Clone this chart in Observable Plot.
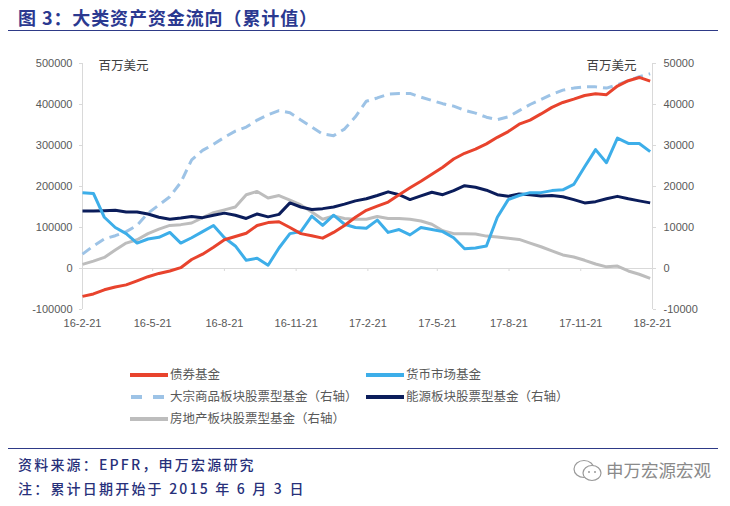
<!DOCTYPE html>
<html>
<head>
<meta charset="utf-8">
<script src="https://cdn.jsdelivr.net/npm/d3@7"></script>
<script src="https://cdn.jsdelivr.net/npm/@observablehq/plot@0.6"></script>
<style>
  html, body { margin: 0; padding: 0; background: #ffffff; }
  body { width: 730px; height: 506px; position: relative; overflow: hidden; font-family: "Noto Sans CJK SC", sans-serif; }
  .abs { position: absolute; white-space: nowrap; }
  #title { left: 18px; top: 4px; font-size: 18px; font-weight: 700; color: #2B3990; letter-spacing: 0.9px; line-height: 26px; }
  .hr { position: absolute; left: 8px; width: 710px; height: 0; border-top: 1.5px solid #2E3A87; }
  #chart { position: absolute; left: 0; top: 40px; }
  .lg { position: absolute; font-size: 12.5px; color: #595959; line-height: 16px; white-space: nowrap; }
  .lg svg { position: absolute; left: 0; top: 6px; }
  .lg span { position: absolute; left: 40px; top: 0; }
  .foot { position: absolute; left: 18px; font-size: 14px; font-weight: 500; color: #27307A; letter-spacing: 2.2px; line-height: 20px; white-space: nowrap; }
  #wm { position: absolute; left: 606px; top: 459px; font-size: 17.5px; color: #8a8a8a; line-height: 22px; white-space: nowrap; }
  #wmicon { position: absolute; left: 572px; top: 458px; }
</style>
</head>
<body>
<div id="title" class="abs">图 3：大类资产资金流向（累计值）</div>
<div class="hr" style="top:30px"></div>
<div id="chart"></div>
<div id="legend"></div>
<div class="hr" style="top:448px"></div>
<div class="foot" style="top:454px">资料来源：EPFR，申万宏源研究</div>
<div class="foot" style="top:478px">注：累计日期开始于 2015 年 6 月 3 日</div>
<svg id="wmicon" width="32" height="26" viewBox="0 0 32 26">
  <ellipse cx="12" cy="11" rx="10" ry="8.5" fill="none" stroke="#9a9a9a" stroke-width="1.2"/>
  <ellipse cx="20" cy="15" rx="9" ry="7.5" fill="#ffffff" stroke="#9a9a9a" stroke-width="1.2"/>
  <circle cx="17" cy="14" r="1" fill="#9a9a9a"/>
  <circle cx="23" cy="14" r="1" fill="#9a9a9a"/>
</svg>
<div id="wm">申万宏源宏观</div>
<script>
// ---------- data ----------
const dates = [
  "2016-02-21","2016-03-06","2016-03-20","2016-04-03","2016-04-17","2016-05-01","2016-05-15","2016-05-29",
  "2016-06-12","2016-06-26","2016-07-10","2016-07-24","2016-08-07","2016-08-21","2016-09-04","2016-09-18",
  "2016-10-02","2016-10-16","2016-10-30","2016-11-13","2016-11-27","2016-12-11","2016-12-25","2017-01-08",
  "2017-01-22","2017-02-05","2017-02-19","2017-03-05","2017-03-19","2017-04-02","2017-04-16","2017-04-30",
  "2017-05-14","2017-05-28","2017-06-11","2017-06-25","2017-07-09","2017-07-23","2017-08-06","2017-08-20",
  "2017-09-03","2017-09-17","2017-10-01","2017-10-15","2017-10-29","2017-11-12","2017-11-26","2017-12-10",
  "2017-12-24","2018-01-07","2018-01-21","2018-02-04","2018-02-18"
];

// left axis (百万美元)
const bondFund = [
  -68000,-62000,-52000,-45000,-40000,-30000,-20000,-12000,-6000,2000,22000,35000,52000,70000,78000,86000,
  105000,112000,114000,100000,85000,80000,74000,88000,105000,125000,142000,152000,162000,180000,197000,213000,
  230000,247000,267000,281000,291000,304000,320000,334000,352000,362000,377000,393000,405000,413000,422000,426000,
  424000,445000,458000,466000,457000
];
const moneyMarketFund = [
  185000,183000,125000,100000,85000,62000,72000,76000,88000,62000,75000,90000,105000,75000,55000,20000,
  25000,8000,50000,85000,90000,128000,105000,130000,108000,100000,98000,118000,88000,95000,82000,100000,
  95000,90000,75000,48000,50000,55000,125000,168000,178000,185000,185000,190000,192000,205000,248000,290000,
  258000,318000,305000,305000,285000
];

// right axis (百万美元)
const commodityEquity = [
  3500,5500,7200,8000,9000,10500,13500,15500,17500,21000,26500,28800,30300,32000,33500,34500,
  36200,37500,38500,38000,36200,34500,32800,32400,34000,37000,40800,41600,42500,42700,42700,41800,
  41000,40200,39600,38600,37900,36900,36300,37000,38500,40000,41200,42500,43500,44000,44300,44300,
  44000,44800,45800,46800,47500
];
const energyEquity = [
  14000,14000,14100,14200,13800,13800,13300,12500,12000,12300,12700,12400,13000,13500,13000,12200,
  13300,12600,13200,16000,15000,14400,14600,15000,15700,16500,17000,17800,18700,18000,16800,17700,
  18600,18000,19000,20200,19800,19100,18000,17600,18200,18000,17700,17800,17500,16800,16000,16300,
  17000,17600,17000,16500,16000
];
const realEstateEquity = [
  1000,1800,2700,4500,6200,7000,8500,9600,10500,10700,11100,12400,13600,14300,15000,18000,
  18800,17200,17800,16700,15500,13800,12000,12800,12200,12000,12000,12700,12200,12200,12000,11600,
  10800,9200,8500,8500,8400,7900,7700,7400,7100,6200,5300,4300,3300,2800,2000,1100,
  400,600,-600,-1400,-2400
];

const seriesNames = ["债券基金","货币市场基金","大宗商品板块股票型基金（右轴）","能源板块股票型基金（右轴）","房地产板块股票型基金（右轴）"];
const seriesColors = ["#E8432D","#3DAEE9","#9DC3E6","#0B1D5B","#BDBDBD"];

const leftTicks = [-100000, 0, 100000, 200000, 300000, 400000, 500000];
const rightTicks = [-10000, 0, 10000, 20000, 30000, 40000, 50000];
const xTickDates = ["2016-02-21","2016-05-21","2016-08-21","2016-11-21","2017-02-21","2017-05-21","2017-08-21","2017-11-21","2018-02-21"];
const xTickLabels = ["16-2-21","16-5-21","16-8-21","16-11-21","17-2-21","17-5-21","17-8-21","17-11-21","18-2-21"];
const unitLabel = "百万美元";

// ---------- build ----------
const rightFactor = leftTicks[leftTicks.length - 1] / rightTicks[rightTicks.length - 1]; // 10
const parse = d3.utcParse("%Y-%m-%d");
const xDates = dates.map(parse);
const tickDates = xTickDates.map(parse);
const labelByTime = new Map(tickDates.map((d, i) => [+d, xTickLabels[i]]));
const xDomain = [tickDates[0], tickDates[tickDates.length - 1]];
const yDomain = [leftTicks[0], leftTicks[leftTicks.length - 1]];

function rows(vals, factor) {
  return xDates.map((d, i) => ({date: d, value: vals[i] * factor}));
}

const lineStyle = {x: "date", y: "value", strokeWidth: 3, strokeLinejoin: "round", strokeLinecap: "butt", curve: "linear"};

const chart = Plot.plot({
  width: 730,
  height: 300,
  marginLeft: 82,
  marginRight: 78,
  marginTop: 23,
  marginBottom: 31,
  x: {type: "utc", domain: xDomain},
  y: {domain: yDomain},
  style: {fontFamily: "'Liberation Sans', Arial, sans-serif", fontSize: "11px", background: "transparent", overflow: "visible"},
  marks: [
    Plot.ruleY([0], {stroke: "#D9D9D9", strokeWidth: 1}),
    Plot.ruleX(tickDates, {x: d => d, y1: 0, y2: 0, insetBottom: -3, stroke: "#D9D9D9"}),
    Plot.ruleX([xDomain[0]], {y1: yDomain[0], y2: yDomain[1], stroke: "#D9D9D9"}),
    Plot.ruleX([xDomain[1]], {y1: yDomain[0], y2: yDomain[1], stroke: "#D9D9D9"}),
    Plot.axisY({anchor: "left", ticks: leftTicks, tickSize: 3, tickPadding: 7, stroke: "#D9D9D9", fill: "#595959", tickFormat: d => String(d), label: null}),
    Plot.axisY({anchor: "right", ticks: leftTicks, tickSize: 3, tickPadding: 8, stroke: "#D9D9D9", fill: "#595959", tickFormat: d => String(Math.round(d / rightFactor)), label: null}),
    Plot.axisX({anchor: "bottom", ticks: tickDates, tickSize: 0, tickPadding: 10, fill: "#595959", tickFormat: d => labelByTime.get(+d), label: null}),
    Plot.line(rows(commodityEquity, rightFactor), {...lineStyle, stroke: seriesColors[2], strokeDasharray: "10,6"}),
    Plot.line(rows(realEstateEquity, rightFactor), {...lineStyle, stroke: seriesColors[4]}),
    Plot.line(rows(energyEquity, rightFactor), {...lineStyle, stroke: seriesColors[3]}),
    Plot.line(rows(moneyMarketFund, 1), {...lineStyle, stroke: seriesColors[1]}),
    Plot.line(rows(bondFund, 1), {...lineStyle, stroke: seriesColors[0]}),
    Plot.text([unitLabel], {frameAnchor: "top-left", dx: 16, dy: -2, fill: "#404040", fontSize: 12.5, fontFamily: "'Noto Sans CJK SC', sans-serif", textAnchor: "start"}),
    Plot.text([unitLabel], {frameAnchor: "top-right", dx: -16, dy: -2, fill: "#404040", fontSize: 12.5, fontFamily: "'Noto Sans CJK SC', sans-serif", textAnchor: "end"})
  ]
});
document.getElementById("chart").appendChild(chart);

// ---------- legend ----------
const legendPos = [
  {left: 130, top: 366}, {left: 366, top: 366},
  {left: 130, top: 388}, {left: 366, top: 388},
  {left: 130, top: 410}
];
const legend = document.getElementById("legend");
seriesNames.forEach((name, i) => {
  const div = document.createElement("div");
  div.className = "lg";
  div.style.left = legendPos[i].left + "px";
  div.style.top = legendPos[i].top + "px";
  const dash = i === 2 ? ' stroke-dasharray="11,11" x1="1"' : ' x1="0"';
  div.innerHTML = `<svg width="40" height="6"><line${dash} y1="3" x2="38" y2="3" stroke="${seriesColors[i]}" stroke-width="4"/></svg><span>${name}</span>`;
  legend.appendChild(div);
});
</script>
</body>
</html>
